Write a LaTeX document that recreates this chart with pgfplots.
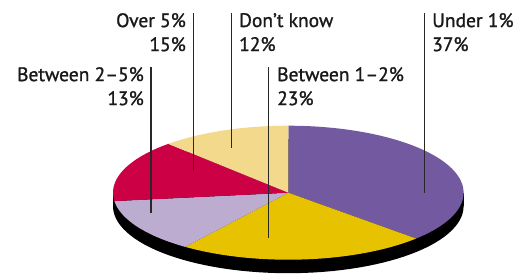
\documentclass[border=0pt]{standalone}
\usepackage{fontspec}
\setmainfont{PT Sans}[FakeBold=1.2]
\usepackage{pgfplots}
\pgfplotsset{compat=1.18}
\definecolor{cpurple}{RGB}{114,89,160}
\definecolor{cyellow}{RGB}{231,194,0}
\definecolor{clpurple}{RGB}{187,172,208}
\definecolor{cred}{RGB}{204,0,68}
\definecolor{clyellow}{RGB}{242,217,140}
\definecolor{cline}{RGB}{40,40,40}
\definecolor{ctext}{RGB}{25,25,25}
\begin{document}
\begin{tikzpicture}
\begin{axis}[width=516pt,height=274pt,scale only axis,
  xmin=0,xmax=516,ymin=0,ymax=274,hide axis,clip=false]
\path (axis cs:0,0) rectangle (axis cs:516,274);
% depth of the pie
\addplot[fill=black,draw=none,domain=0:360,samples=120,variable=\t]
  ({288.3+175.3*cos(t)},{67.8+67*sin(t)}) -- cycle;
\addplot[fill=black,draw=none] coordinates {(113,67.8) (463.6,67.8) (463.6,81.3) (113,81.3)} -- cycle;
% slices: Under 1% 37, Between 1-2% 23, Between 2-5% 13, Over 5% 15, Don't know 12
\addplot[fill=cpurple,draw=none,domain={90-3.6*37}:90,samples=90,variable=\t]
  ({288.3+175.3*cos(t)},{81.3+67*sin(t)}) -- (axis cs:288.3,81.3) -- cycle;
\addplot[fill=cyellow,draw=none,domain={90-3.6*60}:{90-3.6*37},samples=60,variable=\t]
  ({288.3+175.3*cos(t)},{81.3+67*sin(t)}) -- (axis cs:288.3,81.3) -- cycle;
\addplot[fill=clpurple,draw=none,domain={90-3.6*73}:{90-3.6*60},samples=40,variable=\t]
  ({288.3+175.3*cos(t)},{81.3+67*sin(t)}) -- (axis cs:288.3,81.3) -- cycle;
\addplot[fill=cred,draw=none,domain={90-3.6*88}:{90-3.6*73},samples=40,variable=\t]
  ({288.3+175.3*cos(t)},{81.3+67*sin(t)}) -- (axis cs:288.3,81.3) -- cycle;
\addplot[fill=clyellow,draw=none,domain={90-3.6*100}:{90-3.6*88},samples=40,variable=\t]
  ({288.3+175.3*cos(t)},{81.3+67*sin(t)}) -- (axis cs:288.3,81.3) -- cycle;
% leader lines
\addplot[cline,line width=1.3pt] coordinates {(193.3,261) (193.3,103)};
\addplot[cline,line width=1.3pt] coordinates {(231.5,261) (231.5,126)};
\addplot[cline,line width=1.3pt] coordinates {(424.3,261) (424.3,81)};
\addplot[cline,line width=1.3pt] coordinates {(151,207) (151,61)};
\addplot[cline,line width=1.3pt] coordinates {(268.3,207) (268.3,36)};
% labels
\begin{scope}[every node/.style={inner sep=0pt,text=ctext,font=\fontsize{19.5}{24}\selectfont}]
\node[anchor=north east,align=right] at (axis cs:186,261) {Over 5\%\\15\%};
\node[anchor=north west,align=left] at (axis cs:239,261) {Don’t know\\12\%};
\node[anchor=north west,align=left] at (axis cs:432,261) {Under 1\%\\37\%};
\node[anchor=north east,align=right] at (axis cs:144,207) {Between 2–5\%\\13\%};
\node[anchor=north west,align=left] at (axis cs:277,207) {Between 1–2\%\\23\%};
\end{scope}
\end{axis}
\end{tikzpicture}
\end{document}
